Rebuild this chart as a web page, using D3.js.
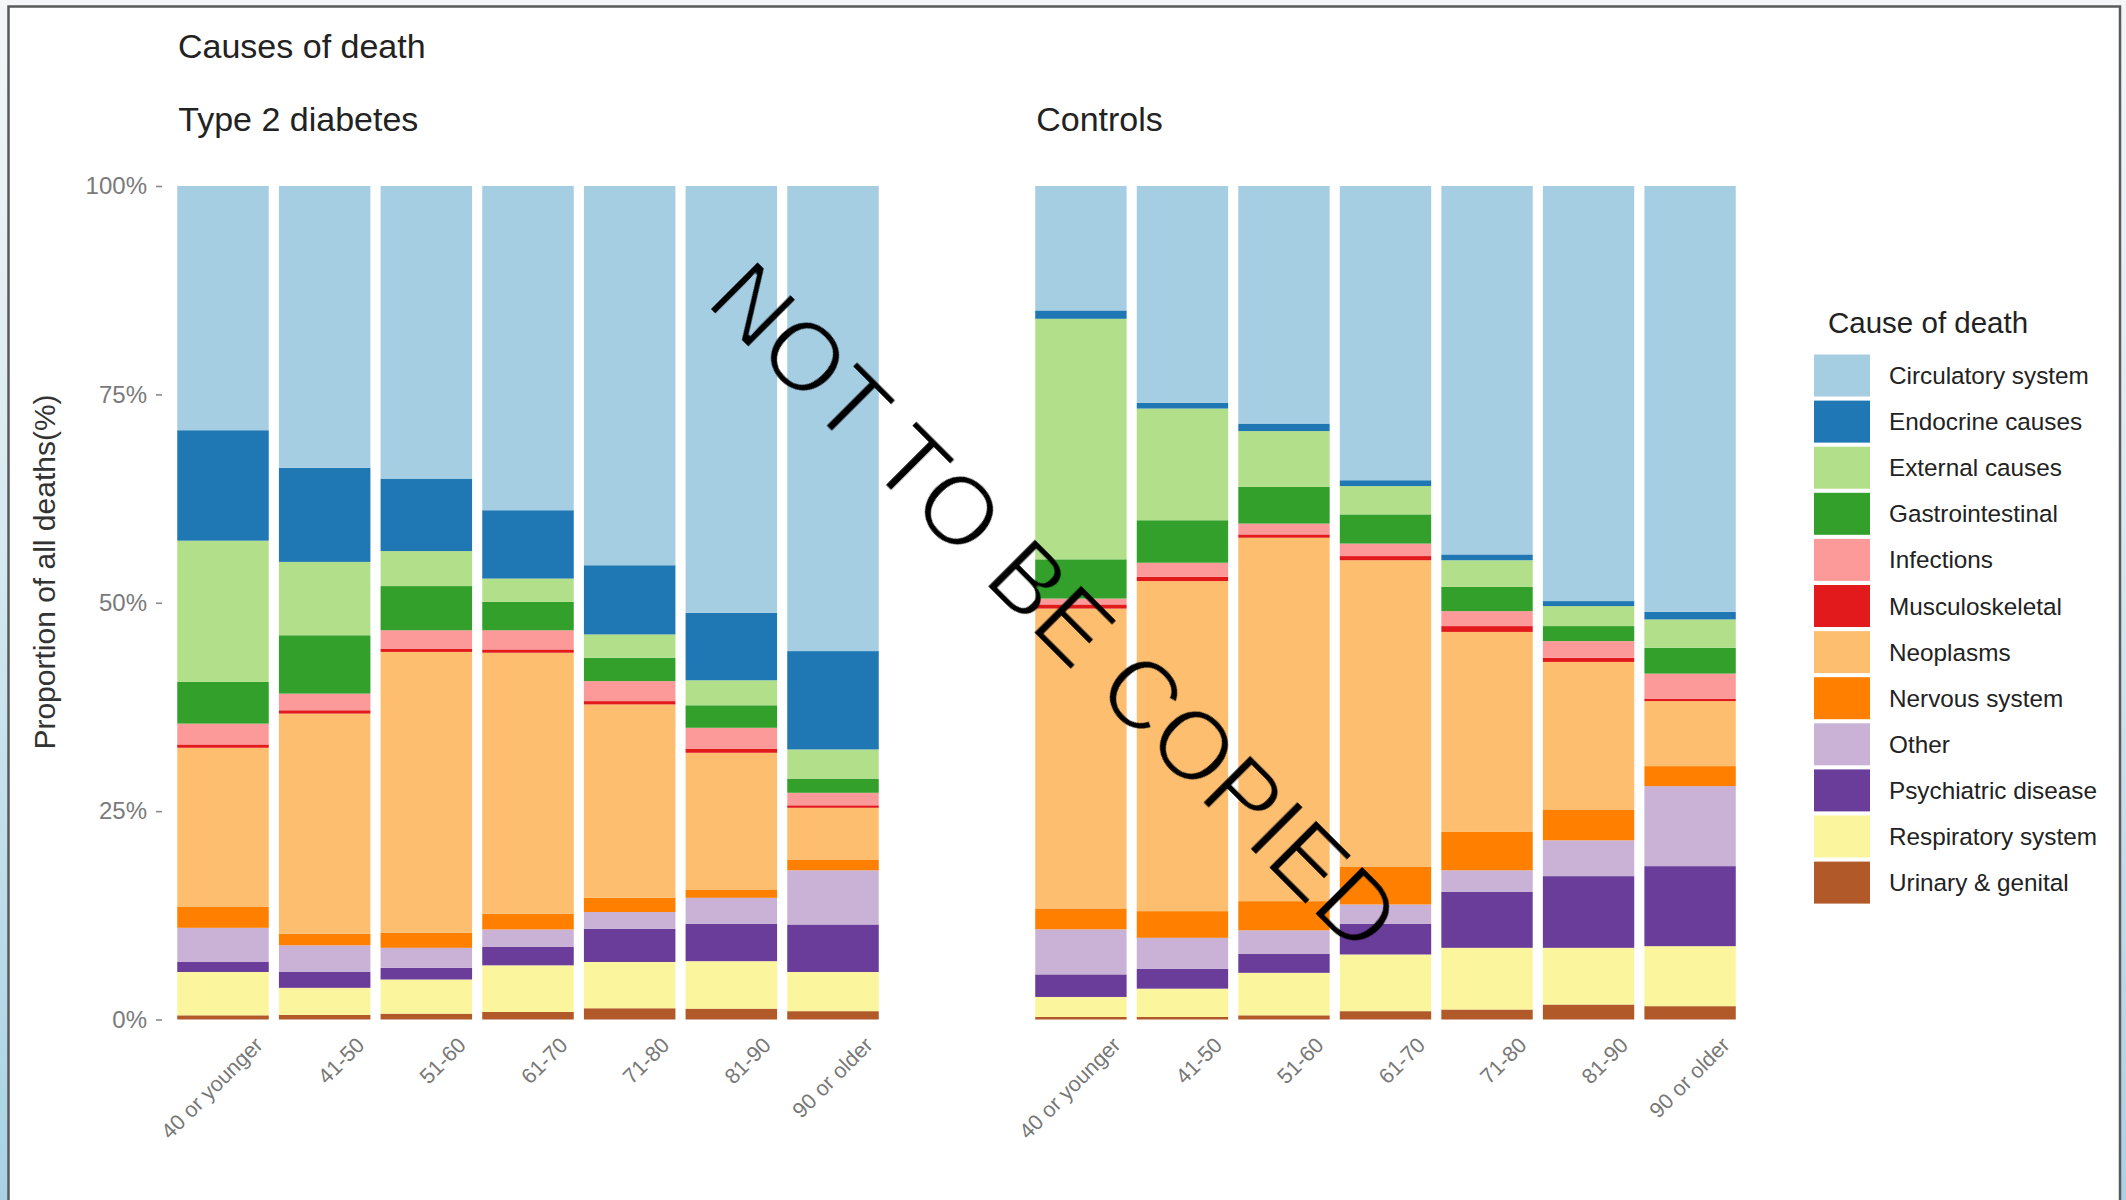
<!DOCTYPE html>
<html>
<head>
<meta charset="utf-8">
<script src="https://cdn.jsdelivr.net/npm/d3@7"></script>
<style>
  html, body { margin: 0; padding: 0; background: #ffffff; }
  svg { display: block; font-family: "Liberation Sans", Arial, Helvetica, sans-serif; }
</style>
</head>
<body>
<svg id="chart" width="2126" height="1200"></svg>
<script>
// Age groups on the x axis
const ageGroups = ["40 or younger", "41-50", "51-60", "61-70", "71-80", "81-90", "90 or older"];

// Causes in legend order (first cause sits on top of each stack)
const causes = ["Circulatory system", "Endocrine causes", "External causes", "Gastrointestinal",
  "Infections", "Musculoskeletal", "Neoplasms", "Nervous system", "Other",
  "Psychiatric disease", "Respiratory system", "Urinary & genital"];

// ColorBrewer "Paired" palette, one colour per cause
const causeColors = ["#a6cee3", "#1f78b4", "#b2df8a", "#33a02c", "#fb9a99", "#e31a1c",
  "#fdbf6f", "#ff7f00", "#cab2d6", "#6a3d9a", "#fbf69d", "#b15928"];

// Percentage of deaths per cause, by age group — type 2 diabetes
const t2dCirculatory   = [29.3, 33.8, 35.1, 38.9, 45.5, 51.2, 55.8];
const t2dEndocrine     = [13.25, 11.3, 8.7, 8.2, 8.3, 8.1, 11.8];
const t2dExternal      = [16.95, 8.8, 4.2, 2.8, 2.8, 3.0, 3.5];
const t2dGastro        = [5.0, 7.0, 5.3, 3.4, 2.8, 2.7, 1.7];
const t2dInfections    = [2.5, 2.0, 2.2, 2.3, 2.4, 2.5, 1.5];
const t2dMusculo       = [0.4, 0.4, 0.4, 0.4, 0.4, 0.5, 0.3];
const t2dNeoplasms     = [19.1, 26.4, 33.7, 31.3, 23.2, 16.4, 6.2];
const t2dNervous       = [2.5, 1.4, 1.8, 1.9, 1.7, 1.0, 1.3];
const t2dOther         = [4.1, 3.2, 2.4, 2.1, 2.0, 3.1, 6.5];
const t2dPsychiatric   = [1.2, 1.9, 1.4, 2.2, 4.0, 4.5, 5.7];
const t2dRespiratory   = [5.2, 3.25, 4.1, 5.6, 5.55, 5.7, 4.7];
const t2dUrinary       = [0.5, 0.55, 0.7, 0.9, 1.35, 1.3, 1.0];

// Percentage of deaths per cause, by age group — controls
const ctlCirculatory   = [14.9, 26.0, 28.5, 35.3, 44.2, 49.8, 51.1];
const ctlEndocrine     = [1.0, 0.7, 0.9, 0.7, 0.7, 0.6, 0.9];
const ctlExternal      = [28.8, 13.4, 6.7, 3.4, 3.2, 2.4, 3.4];
const ctlGastro        = [4.7, 5.1, 4.4, 3.5, 2.9, 1.8, 3.1];
const ctlInfections    = [0.7, 1.7, 1.3, 1.5, 1.8, 2.0, 3.0];
const ctlMusculo       = [0.5, 0.5, 0.4, 0.5, 0.7, 0.5, 0.3];
const ctlNeoplasms     = [35.9, 39.6, 43.6, 36.8, 24.0, 17.7, 7.8];
const ctlNervous       = [2.5, 3.2, 3.5, 4.5, 4.6, 3.7, 2.4];
const ctlOther         = [5.4, 3.7, 2.8, 2.3, 2.6, 4.3, 9.6];
const ctlPsychiatric   = [2.7, 2.4, 2.3, 3.7, 6.7, 8.6, 9.6];
const ctlRespiratory   = [2.4, 3.4, 5.1, 6.8, 7.4, 6.8, 7.2];
const ctlUrinary       = [0.3, 0.3, 0.5, 1.0, 1.2, 1.8, 1.6];

const yTicks = [0, 0.25, 0.5, 0.75, 1];

const t2dSeries = [t2dCirculatory, t2dEndocrine, t2dExternal, t2dGastro, t2dInfections, t2dMusculo,
  t2dNeoplasms, t2dNervous, t2dOther, t2dPsychiatric, t2dRespiratory, t2dUrinary];
const ctlSeries = [ctlCirculatory, ctlEndocrine, ctlExternal, ctlGastro, ctlInfections, ctlMusculo,
  ctlNeoplasms, ctlNervous, ctlOther, ctlPsychiatric, ctlRespiratory, ctlUrinary];

function rowsFrom(series) {
  return ageGroups.map((g, i) => {
    const row = { age: g };
    causes.forEach((c, k) => { row[c] = series[k][i]; });
    return row;
  });
}

const panels = [
  { title: "Type 2 diabetes", rows: rowsFrom(t2dSeries), x0: 162, x1: 894, yAxis: true },
  { title: "Controls", rows: rowsFrom(ctlSeries), x0: 1020, x1: 1751, yAxis: false }
];

const svg = d3.select("#chart");
const W = 2126, H = 1200;
const plotTop = 186, plotBottom = 1019.5;

// page frame: soft blue edge strip and dark border
const defs = svg.append("defs");
const grad = defs.append("linearGradient").attr("id", "edge").attr("x1", 0).attr("y1", 0).attr("x2", 0).attr("y2", 1);
grad.append("stop").attr("offset", "0%").attr("stop-color", "#f3f6f8");
grad.append("stop").attr("offset", "45%").attr("stop-color", "#d6e9f1");
grad.append("stop").attr("offset", "100%").attr("stop-color", "#a8d2e3");
// thins the glyphs of the diagonal stamp
const thin = defs.append("filter").attr("id", "thin");
thin.append("feMorphology").attr("operator", "erode").attr("radius", 1.1);

svg.append("rect").attr("x", 0).attr("y", 0).attr("width", W).attr("height", H).attr("fill", "#ffffff");
svg.append("rect").attr("x", 0).attr("y", 0).attr("width", 8).attr("height", H).attr("fill", "url(#edge)");
svg.append("rect").attr("x", 2121).attr("y", 0).attr("width", 5).attr("height", H).attr("fill", "url(#edge)");
svg.append("rect").attr("x", 0).attr("y", 0).attr("width", W).attr("height", 6).attr("fill", "#f4f6f7");
svg.append("path")
  .attr("d", `M8.5,${H} L8.5,6.5 L2120,6.5 L2120,${H}`)
  .attr("fill", "none").attr("stroke", "#5a5a5a").attr("stroke-width", 2.5);

const y = d3.scaleLinear().domain([0, 1]).range([plotBottom, plotTop]);
const color = d3.scaleOrdinal().domain(causes).range(causeColors);

// stacking: last cause at the bottom, first cause on top, normalised to 100%
const stack = d3.stack()
  .keys(causes.slice().reverse())
  .offset(d3.stackOffsetExpand);

// overall title
svg.append("text").attr("x", 178).attr("y", 58)
  .attr("font-size", 34).attr("fill", "#222").text("Causes of death");

panels.forEach(p => {
  const x = d3.scaleBand().domain(ageGroups).range([p.x0, p.x1])
    .paddingInner(0.1).paddingOuter(0.15);
  const g = svg.append("g");

  g.append("text").attr("x", x(ageGroups[0]) + 1).attr("y", 131)
    .attr("font-size", 34).attr("fill", "#222").text(p.title);

  const layers = stack(p.rows);
  g.selectAll("g.layer").data(layers).join("g")
    .attr("class", "layer")
    .attr("fill", d => color(d.key))
    .selectAll("rect").data(d => d).join("rect")
      .attr("x", d => x(d.data.age))
      .attr("width", x.bandwidth())
      .attr("y", d => y(d[1]))
      .attr("height", d => y(d[0]) - y(d[1]));

  // x labels, rotated 45 degrees
  const xl = g.append("g").attr("transform", `translate(0,${plotBottom + 16})`);
  xl.selectAll("text").data(ageGroups).join("text")
    .attr("transform", d => `translate(${x(d) + x.bandwidth() / 2 + 30},0) rotate(-45)`)
    .attr("text-anchor", "end")
    .attr("dy", "0.72em")
    .attr("font-size", 21.5)
    .attr("fill", "#777")
    .text(d => d);

  if (p.yAxis) {
    const ax = g.append("g").attr("transform", `translate(${p.x0},0)`)
      .call(d3.axisLeft(y).tickValues(yTicks).tickFormat(d3.format(".0%")).tickSize(6).tickPadding(9));
    ax.select(".domain").remove();
    ax.selectAll(".tick line").attr("stroke", "#8a8a8a").attr("stroke-width", 1.6);
    ax.selectAll(".tick text").attr("font-size", 24).attr("fill", "#7a7a7a")
      .attr("font-family", "Liberation Sans, Arial, sans-serif");
  }
});

// y axis title
svg.append("text")
  .attr("transform", "translate(55,572) rotate(-90)")
  .attr("text-anchor", "middle")
  .attr("font-size", 30)
  .attr("fill", "#333")
  .text("Proportion of all deaths(%)");

// legend
const lg = svg.append("g").attr("transform", "translate(1814,0)");
lg.append("text").attr("x", 14).attr("y", 333).attr("font-size", 29.5).attr("fill", "#222").text("Cause of death");
const keyTop = 352.5, keyStep = 46.1, keyH = 42, keyW = 56;
const items = lg.selectAll("g.item").data(causes).join("g")
  .attr("class", "item")
  .attr("transform", (d, i) => `translate(0,${keyTop + i * keyStep})`);
items.append("rect").attr("x", 0).attr("y", 2).attr("width", keyW).attr("height", keyH)
  .attr("fill", d => color(d));
items.append("text").attr("x", 75).attr("y", 2 + keyH / 2).attr("dy", "0.35em")
  .attr("font-size", 24.3).attr("fill", "#222").text(d => d);

// diagonal stamp across the figure
svg.append("text")
  .attr("transform", "translate(1056,606) rotate(45)")
  .attr("text-anchor", "middle")
  .attr("dy", "0.36em")
  .attr("font-size", 98)
  .attr("fill", "#000")
  .attr("filter", "url(#thin)")
  .text("NOT TO BE COPIED");
</script>
</body>
</html>
